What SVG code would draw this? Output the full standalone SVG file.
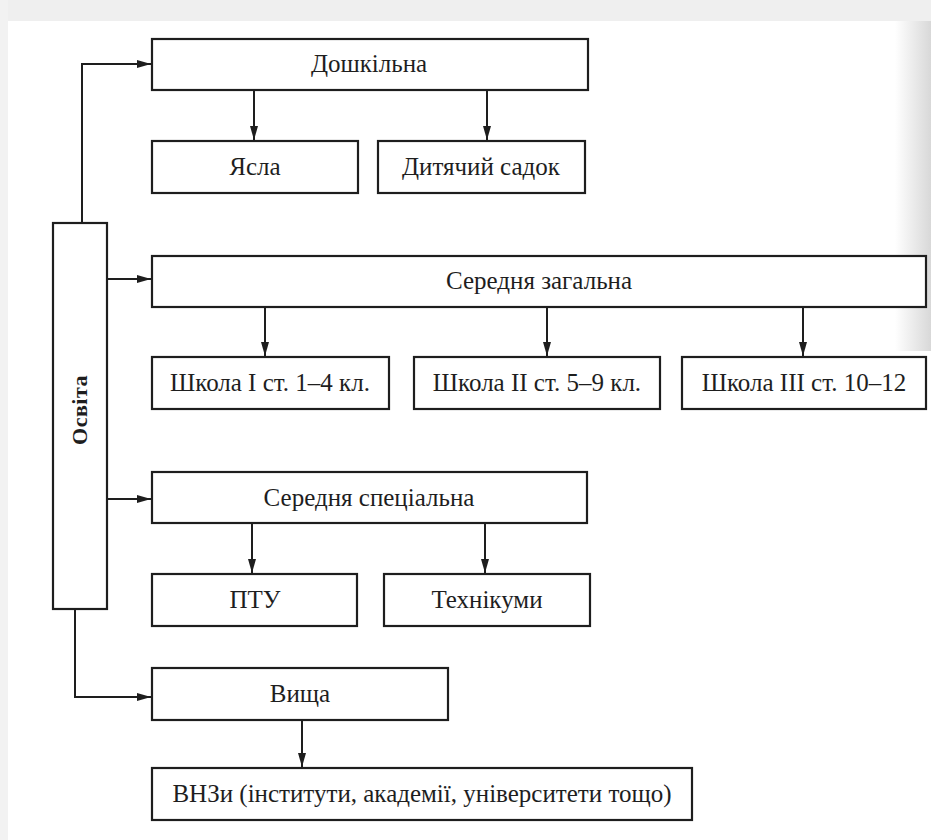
<svg xmlns="http://www.w3.org/2000/svg" width="931" height="840" viewBox="0 0 931 840">
<defs>
<marker id="ah" markerWidth="14" markerHeight="8" refX="14" refY="4" orient="auto" markerUnits="userSpaceOnUse">
<path d="M0,0 L14,4 L0,8 Z" fill="#1e1e1e"/>
</marker>
<linearGradient id="edge" x1="0" y1="0" x2="1" y2="0">
<stop offset="0" stop-color="#ffffff"/>
<stop offset="1" stop-color="#d8d8d8"/>
</linearGradient>
</defs>
<style>
.box{fill:#ffffff;stroke:#1e1e1e;stroke-width:2.2}
.t{font-family:"Liberation Serif","Times New Roman",serif;font-size:25px;fill:#1e1e1e;text-anchor:middle}
.b{font-weight:bold;font-size:22px}
.c{fill:none;stroke:#1e1e1e;stroke-width:2}
</style>
<rect x="0" y="0" width="931" height="840" fill="#ffffff"/>
<rect x="0" y="0" width="931" height="21" fill="#efefef"/>
<rect x="0" y="0" width="8" height="840" fill="#f2f2f2"/>
<rect x="895" y="21" width="36" height="330" fill="url(#edge)"/>

<g id="connectors">
<path class="c" d="M82,223 V64 H151" marker-end="url(#ah)"/>
<path class="c" d="M107,279 H151" marker-end="url(#ah)"/>
<path class="c" d="M107,499 H151" marker-end="url(#ah)"/>
<path class="c" d="M75,609 V697 H151" marker-end="url(#ah)"/>
<path class="c" d="M254,90 V140" marker-end="url(#ah)"/>
<path class="c" d="M487,90 V140" marker-end="url(#ah)"/>
<path class="c" d="M265,307 V356" marker-end="url(#ah)"/>
<path class="c" d="M547,307 V356" marker-end="url(#ah)"/>
<path class="c" d="M803,307 V356" marker-end="url(#ah)"/>
<path class="c" d="M252,523 V573" marker-end="url(#ah)"/>
<path class="c" d="M485,523 V573" marker-end="url(#ah)"/>
<path class="c" d="M302,720 V767" marker-end="url(#ah)"/>
</g>

<g id="osvita">
<rect class="box" x="53" y="223" width="54" height="386"/>
<text class="t b" transform="translate(87,410) rotate(-90)" letter-spacing="0.5">Освіта</text>
</g>
<g id="doshkilna">
<rect class="box" x="152" y="39" width="436" height="51"/>
<text class="t" x="369" y="72">Дошкільна</text>
</g>
<g id="yasla">
<rect class="box" x="152" y="141" width="206" height="52"/>
<text class="t" x="255" y="175">Ясла</text>
</g>
<g id="sadok">
<rect class="box" x="378" y="141" width="207" height="52"/>
<text class="t" x="481" y="175">Дитячий садок</text>
</g>
<g id="serednia-zahalna">
<rect class="box" x="152" y="256" width="774" height="51"/>
<text class="t" x="539" y="289">Середня загальна</text>
</g>
<g id="shkola1">
<rect class="box" x="152" y="357" width="237" height="52"/>
<text class="t" x="270" y="391">Школа I ст. 1–4 кл.</text>
</g>
<g id="shkola2">
<rect class="box" x="414" y="357" width="246" height="52"/>
<text class="t" x="537" y="391">Школа II ст. 5–9 кл.</text>
</g>
<g id="shkola3">
<rect class="box" x="682" y="357" width="244" height="52"/>
<text class="t" x="804" y="391">Школа III ст. 10–12</text>
</g>
<g id="serednia-spetsialna">
<rect class="box" x="152" y="472" width="435" height="51"/>
<text class="t" x="369" y="506">Середня спеціальна</text>
</g>
<g id="ptu">
<rect class="box" x="152" y="574" width="205" height="52"/>
<text class="t" x="255" y="608">ПТУ</text>
</g>
<g id="tekhnikumy">
<rect class="box" x="384" y="574" width="206" height="52"/>
<text class="t" x="487" y="608">Технікуми</text>
</g>
<g id="vyshcha">
<rect class="box" x="152" y="668" width="296" height="52"/>
<text class="t" x="300" y="702">Вища</text>
</g>
<g id="vnz">
<rect class="box" x="152" y="768" width="540" height="52"/>
<text class="t" x="422" y="802">ВНЗи (інститути, академії, університети тощо)</text>
</g>
</svg>
